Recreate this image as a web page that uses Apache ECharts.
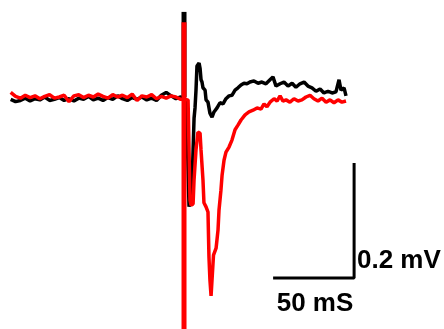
<!DOCTYPE html>
<html>
<head>
<meta charset="utf-8">
<script src="https://cdn.jsdelivr.net/npm/echarts@6/dist/echarts.min.js"></script>
<style>
  html, body { margin: 0; padding: 0; background: #fff; }
  #chart { width: 444px; height: 329px; }
</style>
</head>
<body>
<div id="chart"></div>
<script>
// time in ms (0 = stimulus), voltage in mV (0 = baseline)
const baseT = [-107, -104, -101, -98, -95, -92, -89, -86, -83, -80, -77, -74, -71, -68, -65, -62, -59, -56,
  -53, -50, -47, -44, -41, -38, -35, -32, -29, -26, -23, -20, -17, -14, -11, -8, -5, -2];
const blackBaseV = [-0.004, -0.008, -0.006, -0.002, -0.007, -0.003, -0.005, 0.000, -0.006, -0.004, -0.001, -0.006,
  -0.003, -0.007, -0.002, -0.004, 0.001, -0.005, -0.002, -0.006, -0.001, -0.004, 0.002, -0.003,
  -0.006, -0.001, -0.004, 0.000, -0.005, -0.002, -0.006, 0.003, 0.008, 0.002, -0.003, 0.000];
const redBaseV = [0.008, 0.001, -0.002, 0.003, -0.001, 0.002, -0.003, 0.001, 0.004, -0.002, 0.000, 0.003,
  -0.008, 0.002, 0.004, -0.001, 0.003, 0.000, 0.005, 0.001, -0.002, 0.004, 0.000, 0.003,
  -0.001, 0.005, -0.006, 0.002, 0.000, 0.004, -0.003, 0.001, -0.002, 0.002, 0.000, -0.004];

const blackRespT = [1.2, 1.9, 2.5, 3.1, 4.3, 4.9, 5.6, 6.2, 6.8, 7.4, 8.0, 9.3, 9.9, 10.5, 11.1, 11.7, 13.0, 13.6,
  14.8, 16.0, 17.3, 18.5, 20.4, 22.2, 24.1, 25.9, 27.8, 29.6, 31.5, 33.3, 35.2, 37.0, 38.9, 40.7, 43.2, 45.7,
  48.1, 50.6, 53.1, 54.9, 56.8, 59.3, 61.7, 64.2, 66.7, 69.1, 71.6, 74.1, 76.5, 79.0, 81.5, 84.0, 86.4, 88.9,
  91.4, 93.8, 95.7, 96.9, 98.8, 100.0];
const blackRespV = [-0.005, -0.057, -0.127, -0.191, -0.193, -0.162, -0.092, -0.037, -0.019, 0.012, 0.054, 0.059,
  0.050, 0.030, 0.026, 0.016, 0.012, -0.005, -0.009, -0.028, -0.035, -0.026, -0.019, -0.010, -0.012, -0.003,
  0.002, 0.003, 0.012, 0.016, 0.021, 0.024, 0.023, 0.026, 0.028, 0.024, 0.026, 0.023, 0.030, 0.035, 0.019,
  0.023, 0.026, 0.019, 0.024, 0.017, 0.023, 0.026, 0.019, 0.016, 0.010, 0.014, 0.007, 0.010, 0.007, 0.009,
  0.030, 0.012, 0.016, 0.002];

const redRespT = [2.5, 3.1, 3.7, 4.3, 5.6, 6.2, 7.4, 8.6, 9.9, 10.5, 11.7, 12.3, 13.6, 14.8, 15.4, 16.0, 16.7,
  17.9, 18.2, 19.8, 21.0, 21.6, 22.8, 23.5, 24.7, 25.9, 27.8, 29.6, 31.5, 33.3, 35.2, 37.7, 40.1, 42.6, 45.1,
  47.5, 49.4, 51.2, 53.1, 55.6, 57.4, 59.3, 61.1, 63.0, 65.4, 67.9, 70.4, 72.8, 75.3, 77.8, 80.2, 82.7, 85.2,
  87.7, 90.1, 92.6, 95.1, 97.5, 100.0];
const redRespV = [-0.005, -0.092, -0.179, -0.188, -0.186, -0.144, -0.092, -0.061, -0.063, -0.092, -0.144, -0.184,
  -0.191, -0.200, -0.278, -0.318, -0.346, -0.346, -0.275, -0.263, -0.231, -0.197, -0.162, -0.136, -0.110,
  -0.096, -0.087, -0.075, -0.057, -0.049, -0.040, -0.031, -0.026, -0.023, -0.019, -0.021, -0.012, -0.017,
  -0.009, -0.003, -0.007, 0.002, -0.007, -0.005, -0.009, -0.003, -0.007, -0.005, 0.000, 0.003, -0.003,
  -0.007, -0.002, -0.009, -0.005, -0.010, -0.005, -0.009, -0.007];

// stimulus artifact
const stimT = [0, 0];
const blackStimV = [0.148, 0];
const redStimV = [0.130, -0.45];

// scale bar: 50 ms, 0.2 mV
const scaleT = [55, 105, 105];
const scaleV = [-0.315, -0.315, -0.115];
const scaleLabels = ['50 mS', '0.2 mV'];

const pairs = (ts, vs) => ts.map((t, i) => [t, vs[i]]);

const chart = echarts.init(document.getElementById('chart'));

const traceLine = (name, color, data, width) => ({
  name: name,
  type: 'line',
  data: data,
  showSymbol: false,
  lineStyle: { color: color, width: width },
  z: color === '#ff0000' ? 3 : 2
});

chart.setOption({
  animation: false,
  grid: { left: 0, right: 0, top: 0, bottom: 0 },
  xAxis: { type: 'value', min: -113.6, max: 160.5, show: false },
  yAxis: { type: 'value', min: -0.4035, max: 0.1687, show: false },
  series: [
    traceLine('black', '#000000', pairs(baseT, blackBaseV).concat(pairs(blackRespT, blackRespV)), 3.5),
    traceLine('black stim', '#000000', pairs(stimT, blackStimV), 5),
    traceLine('red', '#ff0000', pairs(baseT, redBaseV).concat(pairs(redRespT, redRespV)), 3.5),
    traceLine('red stim', '#ff0000', pairs(stimT, redStimV), 5),
    {
      name: 'scale',
      type: 'line',
      data: pairs(scaleT, scaleV),
      showSymbol: false,
      lineStyle: { color: '#000', width: 3 },
      z: 4
    }
  ],
  graphic: [
    {
      type: 'text',
      x: 315, y: 304,
      style: {
        text: scaleLabels[0], fill: '#000',
        font: 'bold 26px "Liberation Sans", Arial, sans-serif',
        textAlign: 'center', textVerticalAlign: 'middle'
      }
    },
    {
      type: 'text',
      x: 357, y: 261,
      style: {
        text: scaleLabels[1], fill: '#000',
        font: 'bold 26px "Liberation Sans", Arial, sans-serif',
        textAlign: 'left', textVerticalAlign: 'middle'
      }
    }
  ]
});
</script>
</body>
</html>
